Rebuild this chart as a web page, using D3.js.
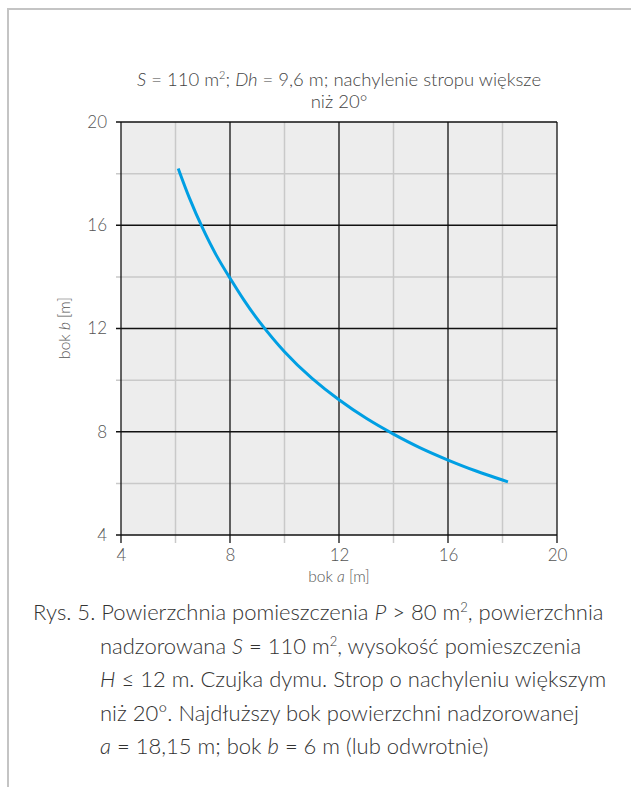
<!DOCTYPE html>
<html>
<head>
<meta charset="utf-8">
<script src="https://cdn.jsdelivr.net/npm/d3@7"></script>
<style>
  html, body { margin: 0; padding: 0; background: #fff; }
  svg { display: block; font-family: Lato, "Open Sans", sans-serif; }
</style>
</head>
<body>
<svg id="chart" width="631" height="787"></svg>
<script>
// Side a [m] and side b [m] of the supervised area
const sideA = [6.1, 6.5, 7, 7.5, 8, 8.5, 9, 10, 11, 12, 13, 14, 15, 16, 17, 18.2];
const sideB = [18.2, 17.05, 15.85, 14.8, 13.95, 13.1, 12.35, 11.05, 10.05, 9.22, 8.5, 7.9, 7.35, 6.9, 6.48, 6.06];

const majorTicks = [4, 8, 12, 16, 20];
const minorTicks = [6, 10, 14, 18];

const captionLines = [
  [{t: "Rys. 5. Powierzchnia pomieszczenia "}, {t: "P", i: true}, {t: " > 80 m"}, {t: "2", s: true}, {t: ", powierzchnia"}],
  [{t: "nadzorowana "}, {t: "S", i: true}, {t: " = 110 m"}, {t: "2", s: true}, {t: ", wysokość pomieszczenia"}],
  [{t: "H", i: true}, {t: " ≤ 12 m. Czujka dymu. Strop o nachyleniu większym"}],
  [{t: "niż 20°. Najdłuższy bok powierzchni nadzorowanej"}],
  [{t: "a", i: true}, {t: " = 18,15 m; bok "}, {t: "b", i: true}, {t: " = 6 m (lub odwrotnie)"}]
];

const svg = d3.select("#chart");

// Outer frame (top and left edges)
svg.append("line").attr("x1", 8).attr("x2", 631).attr("y1", 9).attr("y2", 9)
  .attr("stroke", "#c4c4c4").attr("stroke-width", 2);
svg.append("line").attr("x1", 8).attr("x2", 8).attr("y1", 8).attr("y2", 787)
  .attr("stroke", "#c4c4c4").attr("stroke-width", 2);

const plot = {left: 121, right: 557, top: 122, bottom: 535};
const x = d3.scaleLinear().domain([4, 20]).range([plot.left, plot.right]);
const y = d3.scaleLinear().domain([4, 20]).range([plot.bottom, plot.top]);

const g = svg.append("g");

g.append("rect")
  .attr("x", plot.left).attr("y", plot.top)
  .attr("width", plot.right - plot.left).attr("height", plot.bottom - plot.top)
  .attr("fill", "#ededed");

// Minor grid (grey), with small outer ticks
g.append("g").selectAll("line").data(minorTicks).join("line")
  .attr("x1", d => x(d)).attr("x2", d => x(d))
  .attr("y1", plot.top).attr("y2", plot.bottom + 8)
  .attr("stroke", "#c9c9c9").attr("stroke-width", 1.5);
g.append("g").selectAll("line").data(minorTicks).join("line")
  .attr("x1", plot.left - 5).attr("x2", plot.right)
  .attr("y1", d => y(d)).attr("y2", d => y(d))
  .attr("stroke", "#c9c9c9").attr("stroke-width", 1.5);

// Major grid (black)
g.append("g").selectAll("line").data(majorTicks).join("line")
  .attr("x1", d => x(d)).attr("x2", d => x(d))
  .attr("y1", plot.top).attr("y2", plot.bottom + 8)
  .attr("stroke", "#111").attr("stroke-width", 1.3);
g.append("g").selectAll("line").data(majorTicks).join("line")
  .attr("x1", plot.left - 5).attr("x2", plot.right)
  .attr("y1", d => y(d)).attr("y2", d => y(d))
  .attr("stroke", "#111").attr("stroke-width", 1.3);

// Tick labels via d3 axes
const xAxis = d3.axisBottom(x).tickValues(majorTicks).tickSize(0).tickPadding(14);
const yAxis = d3.axisLeft(y).tickValues(majorTicks).tickSize(0).tickPadding(14);
const gx = g.append("g").attr("transform", `translate(0,${plot.bottom})`).call(xAxis);
const gy = g.append("g").attr("transform", `translate(${plot.left},0)`).call(yAxis);
[gx, gy].forEach(a => {
  a.select(".domain").remove();
  a.selectAll("text").attr("font-family", "Lato, sans-serif").attr("font-size", 17)
    .attr("font-weight", 300).attr("fill", "#555");
});

// Curve
const pts = sideA.map((a, i) => [a, sideB[i]]);
g.append("path").datum(pts)
  .attr("d", d3.line().x(d => x(d[0])).y(d => y(d[1])).curve(d3.curveBasis))
  .attr("fill", "none").attr("stroke", "#009fe3").attr("stroke-width", 3);

// Title
const title = svg.append("text").attr("x", 339).attr("y", 86)
  .attr("text-anchor", "middle").attr("font-size", 18.5).attr("font-weight", 300).attr("fill", "#444");
title.append("tspan").attr("font-style", "italic").text("S");
title.append("tspan").text(" = 110 m");
title.append("tspan").attr("font-size", 11).attr("dy", -7).text("2");
title.append("tspan").attr("dy", 7).text("; ");
title.append("tspan").attr("font-style", "italic").text("Dh");
title.append("tspan").text(" = 9,6 m; nachylenie stropu większe");
svg.append("text").attr("x", 339).attr("y", 108)
  .attr("text-anchor", "middle").attr("font-size", 18.5).attr("font-weight", 300).attr("fill", "#444")
  .text("niż 20°");

// Axis titles
const xt = svg.append("text").attr("x", 339).attr("y", 582)
  .attr("text-anchor", "middle").attr("font-size", 15.5).attr("font-weight", 300).attr("fill", "#555");
xt.append("tspan").text("bok ");
xt.append("tspan").attr("font-style", "italic").text("a");
xt.append("tspan").text(" [m]");
const yt = svg.append("text").attr("transform", "translate(70,328) rotate(-90)")
  .attr("text-anchor", "middle").attr("font-size", 15.5).attr("font-weight", 300).attr("fill", "#555");
yt.append("tspan").text("bok ");
yt.append("tspan").attr("font-style", "italic").text("b");
yt.append("tspan").text(" [m]");

// Caption
captionLines.forEach((line, i) => {
  const t = svg.append("text").attr("x", i === 0 ? 33 : 100).attr("y", 620 + i * 33.5)
    .attr("font-size", 22).attr("font-weight", 300).attr("fill", "#333");
  line.forEach(p => {
    const s = t.append("tspan").text(p.t);
    if (p.i) s.attr("font-style", "italic");
    if (p.s) s.attr("font-size", 13).attr("dy", -8);
    else if (s.node().previousSibling && s.node().previousSibling.getAttribute("dy") === "-8") s.attr("dy", 8);
  });
});
</script>
</body>
</html>
